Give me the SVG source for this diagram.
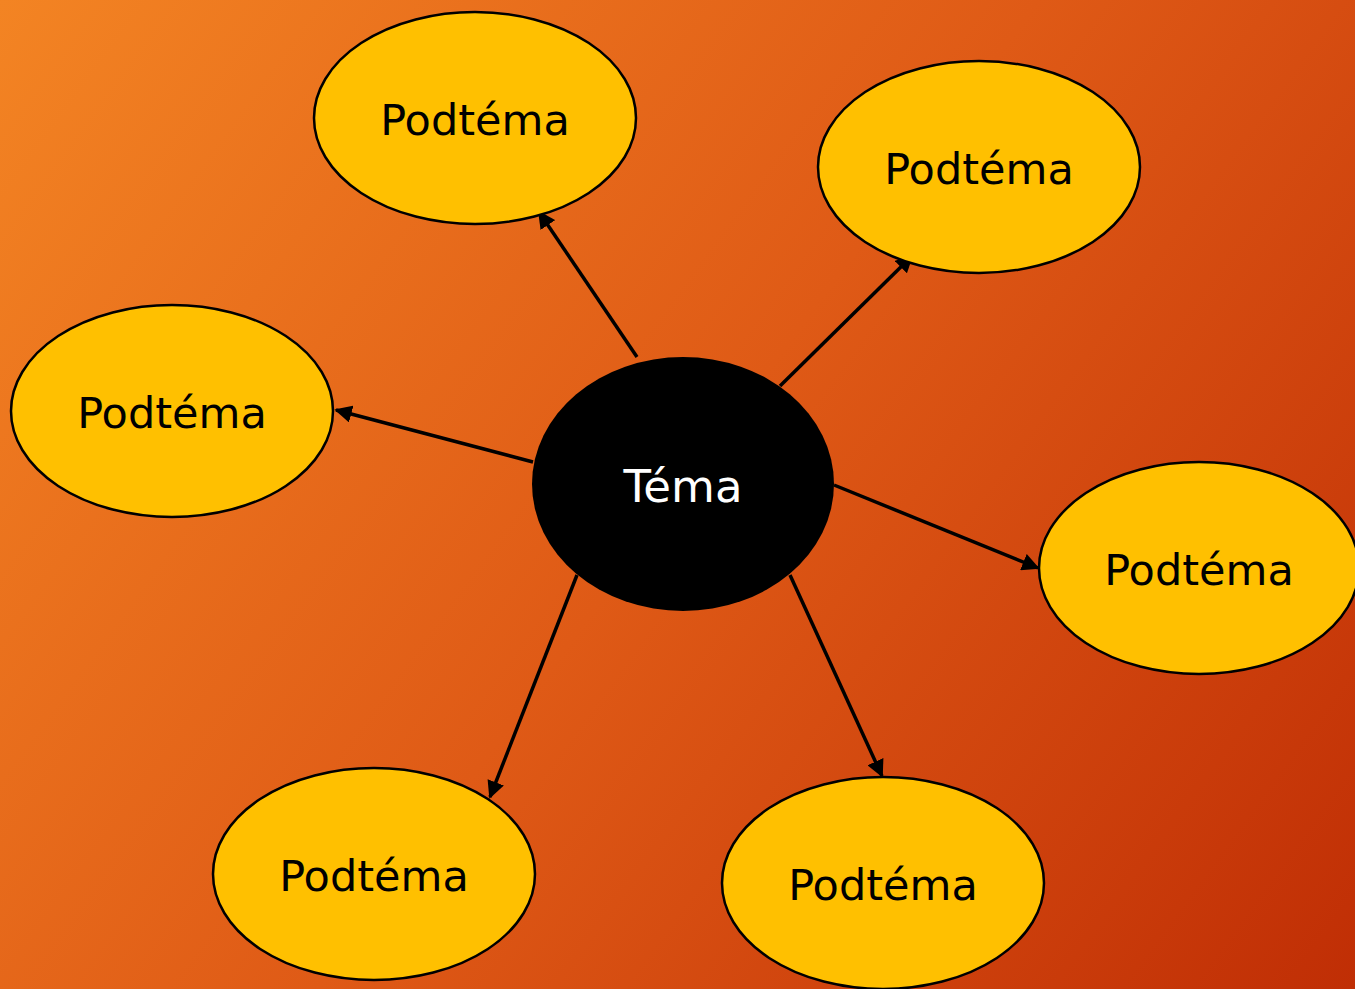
<svg xmlns="http://www.w3.org/2000/svg" width="1355" height="989" viewBox="0 0 1355 989">
<defs>
<linearGradient id="bg" x1="0" y1="0" x2="1355" y2="989" gradientUnits="userSpaceOnUse">
<stop offset="0" stop-color="#F38423"/>
<stop offset="0.5" stop-color="#DF5A16"/>
<stop offset="1" stop-color="#C02E05"/>
</linearGradient>
<marker id="ah" viewBox="0 0 10 10" refX="9" refY="5" markerWidth="5" markerHeight="5" orient="auto" markerUnits="strokeWidth">
<path d="M0,0 L10,5 L0,10 z" fill="#000"/>
</marker>
<style>
.sub{fill:#FFC000;stroke:#000;stroke-width:2.5}
.lbl{font-family:"DejaVu Sans",Verdana,sans-serif;font-size:43px;text-anchor:middle;fill:#000}
.con{stroke:#000;stroke-width:3.5;fill:none;marker-end:url(#ah)}
</style>
</defs>
<rect width="1355" height="989" fill="url(#bg)"/>
<g id="connectors">
<line class="con" x1="637" y1="357" x2="539" y2="212"/>
<line class="con" x1="780" y1="386" x2="912" y2="256"/>
<line class="con" x1="533" y1="462" x2="336" y2="410"/>
<line class="con" x1="834" y1="485" x2="1038" y2="568"/>
<line class="con" x1="577" y1="575" x2="490" y2="797"/>
<line class="con" x1="790" y1="575" x2="882" y2="776"/>
</g>
<g id="n1"><ellipse class="sub" cx="475" cy="118" rx="161" ry="106"/><text class="lbl" x="475" y="135">Podtéma</text></g>
<g id="n2"><ellipse class="sub" cx="979" cy="167" rx="161" ry="106"/><text class="lbl" x="979" y="184">Podtéma</text></g>
<g id="n3"><ellipse class="sub" cx="172" cy="411" rx="161" ry="106"/><text class="lbl" x="172" y="428">Podtéma</text></g>
<g id="n4"><ellipse class="sub" cx="1199" cy="568" rx="160" ry="106"/><text class="lbl" x="1199" y="585">Podtéma</text></g>
<g id="n5"><ellipse class="sub" cx="374" cy="874" rx="161" ry="106"/><text class="lbl" x="374" y="891">Podtéma</text></g>
<g id="n6"><ellipse class="sub" cx="883" cy="883" rx="161" ry="106"/><text class="lbl" x="883" y="900">Podtéma</text></g>
<g id="center"><ellipse cx="683" cy="484" rx="151" ry="127" fill="#000"/><text class="lbl" x="683" y="502" style="fill:#fff;font-size:45px">Téma</text></g>
</svg>
